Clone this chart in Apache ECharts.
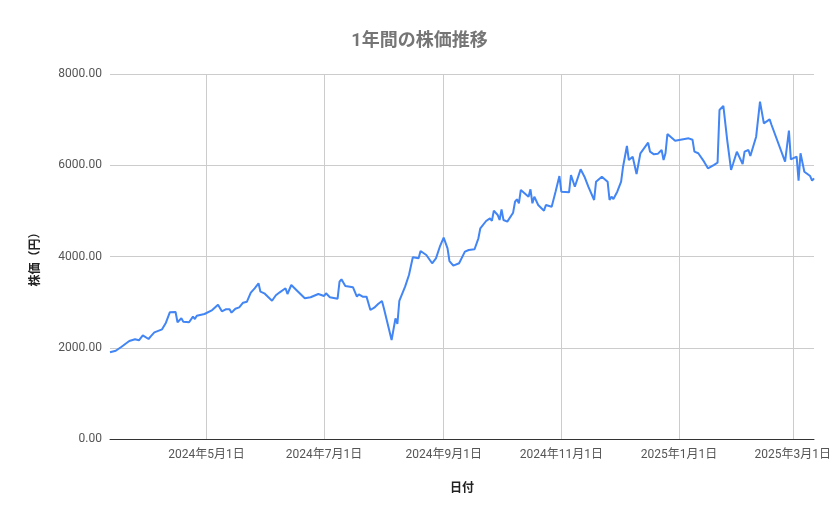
<!DOCTYPE html>
<html>
<head>
<meta charset="utf-8">
<script src="https://cdn.jsdelivr.net/npm/echarts@6/dist/echarts.min.js"></script>
<style>
html,body{margin:0;padding:0;background:#fff;}
#chart{width:839px;height:519px;}
</style>
</head>
<body>
<div id="chart"></div>
<script>
const titleText = '1年間の株価推移';
const xAxisName = '日付';
const yAxisName = '株価（円）';

const dates = [
'2024-03-12','2024-03-15','2024-03-18','2024-03-22','2024-03-25','2024-03-26','2024-03-27','2024-03-29',
'2024-04-01','2024-04-02','2024-04-04','2024-04-08','2024-04-10','2024-04-12','2024-04-15','2024-04-16',
'2024-04-18','2024-04-19','2024-04-22','2024-04-24','2024-04-25','2024-04-26','2024-04-30',
'2024-05-04','2024-05-07','2024-05-09','2024-05-11','2024-05-13','2024-05-14','2024-05-16','2024-05-18',
'2024-05-20','2024-05-22','2024-05-24','2024-05-26','2024-05-28','2024-05-29','2024-05-31',
'2024-06-04','2024-06-06','2024-06-08','2024-06-11','2024-06-12','2024-06-14','2024-06-17','2024-06-21',
'2024-06-24','2024-06-25','2024-06-28',
'2024-07-01','2024-07-02','2024-07-04','2024-07-08','2024-07-09','2024-07-10','2024-07-12','2024-07-16',
'2024-07-18','2024-07-19','2024-07-21','2024-07-23','2024-07-25','2024-07-27','2024-07-29','2024-07-30','2024-07-31',
'2024-08-01','2024-08-05','2024-08-07','2024-08-08','2024-08-09','2024-08-12','2024-08-14','2024-08-15',
'2024-08-16','2024-08-19','2024-08-20','2024-08-23','2024-08-26','2024-08-28','2024-08-30',
'2024-09-01','2024-09-03','2024-09-04','2024-09-06','2024-09-09','2024-09-10','2024-09-12','2024-09-14',
'2024-09-17','2024-09-19','2024-09-20','2024-09-23','2024-09-25','2024-09-26','2024-09-27','2024-09-29','2024-09-30',
'2024-10-01','2024-10-02','2024-10-04','2024-10-07','2024-10-08','2024-10-09','2024-10-10','2024-10-11',
'2024-10-15','2024-10-16','2024-10-17','2024-10-18','2024-10-20','2024-10-23','2024-10-24','2024-10-27',
'2024-10-28','2024-10-29','2024-10-31',
'2024-11-01','2024-11-05','2024-11-06','2024-11-07','2024-11-08','2024-11-11','2024-11-13','2024-11-15',
'2024-11-18','2024-11-19','2024-11-20','2024-11-22','2024-11-25','2024-11-26','2024-11-27','2024-11-28','2024-11-30',
'2024-12-02','2024-12-03','2024-12-05','2024-12-06','2024-12-08','2024-12-10','2024-12-12','2024-12-16',
'2024-12-17','2024-12-19','2024-12-21','2024-12-23','2024-12-24','2024-12-25','2024-12-26','2024-12-27','2024-12-30',
'2025-01-06','2025-01-08','2025-01-09','2025-01-11','2025-01-14','2025-01-16','2025-01-19','2025-01-21',
'2025-01-22','2025-01-24','2025-01-26','2025-01-28','2025-01-29','2025-01-31',
'2025-02-03','2025-02-04','2025-02-05','2025-02-06','2025-02-07','2025-02-10','2025-02-12','2025-02-14',
'2025-02-17','2025-02-18','2025-02-19','2025-02-25','2025-02-27','2025-02-28',
'2025-03-03','2025-03-04','2025-03-05','2025-03-07','2025-03-10','2025-03-11','2025-03-12'
];

const prices = [
1900,1935,2023,2148,2185,2214,2163,2272,
2192,2243,2338,2404,2549,2777,2784,2558,
2645,2571,2558,2681,2630,2703,2740,
2827,2944,2798,2843,2843,2769,2856,2886,
2988,3010,3207,3303,3412,3229,3193,
3031,3150,3215,3303,3178,3375,3251,3084,
3106,3119,3178,
3134,3193,3106,3075,3448,3500,3353,3325,
3119,3171,3119,3120,2827,2878,2959,2955,3025,
2864,2170,2645,2521,3025,3339,3594,3558,
3982,3960,4120,4033,3851,3960,4215,
4412,4180,3901,3799,3851,3864,4106,4143,
4158,4399,4618,4778,4837,4780,5004,4910,4800,
5034,4800,4764,4960,5201,5254,5166,5458,
5311,5473,5166,5311,5129,5004,5129,5092,
5092,5420,5764,
5420,5407,5786,5823,5530,5911,5749,5530,
5238,5640,5603,5749,5640,5238,5311,5260,5420,
5640,5968,6422,6115,6188,5808,6262,6494,
6297,6240,6250,6334,6115,6262,6685,6700,6538,
6590,6560,6297,6262,6078,5933,6005,6056,
7211,7299,6553,5896,6027,6297,
6027,6297,6260,6334,6203,6626,7393,6919,
7007,6882,6860,6078,6758,6130,
6188,5662,6262,5859,5764,5662,5713
];

const axisStart = '2024-03-12';
const axisEnd = '2025-03-12';
const tickDates = ['2024-05-01','2024-07-01','2024-09-01','2024-11-01','2025-01-01','2025-03-01'];
const yTicks = [0, 2000, 4000, 6000, 8000];

const toTs = s => Date.parse(s + 'T00:00:00Z');
const seriesData = dates.map((d, i) => [toTs(d), prices[i]]);
const tickTs = tickDates.map(toTs);

const chart = echarts.init(document.getElementById('chart'), null, {renderer: 'canvas'});
chart.setOption({
  animation: false,
  backgroundColor: '#ffffff',
  textStyle: {fontFamily: 'Roboto, "Noto Sans CJK JP", sans-serif'},
  title: {
    text: titleText,
    left: 'center',
    top: 28,
    textStyle: {fontSize: 18, fontWeight: 'bold', color: '#757575', fontFamily: 'Roboto, "Noto Sans CJK JP", sans-serif'}
  },
  grid: {left: 110, right: 25, top: 74, bottom: 80},
  xAxis: {
    type: 'value',
    min: toTs(axisStart),
    max: toTs(axisEnd),
    name: xAxisName,
    nameLocation: 'middle',
    nameGap: 44,
    nameTextStyle: {fontSize: 12, color: '#222222', fontWeight: 'bold'},
    axisLine: {show: true, onZero: false, lineStyle: {color: '#333333', width: 1}},
    axisTick: {show: false, customValues: tickTs},
    axisLabel: {
      customValues: tickTs,
      color: '#555555',
      fontSize: 12,
      margin: 10,
      formatter: v => {
        const d = new Date(v);
        return d.getUTCFullYear() + '年' + (d.getUTCMonth() + 1) + '月' + d.getUTCDate() + '日';
      }
    },
    splitLine: {show: true, lineStyle: {color: '#cccccc', width: 1}}
  },
  yAxis: {
    type: 'value',
    min: yTicks[0],
    max: yTicks[yTicks.length - 1],
    interval: 2000,
    name: yAxisName,
    nameLocation: 'middle',
    nameGap: 68,
    nameTextStyle: {fontSize: 12, color: '#222222', fontWeight: 'bold'},
    axisLine: {show: false},
    axisTick: {show: false},
    axisLabel: {color: '#555555', fontSize: 12, margin: 8, formatter: v => v.toFixed(2)},
    splitLine: {show: true, lineStyle: {color: '#cccccc', width: 1}}
  },
  series: [{
    type: 'line',
    data: seriesData,
    showSymbol: false,
    symbol: 'none',
    lineStyle: {color: '#4285F4', width: 2},
    itemStyle: {color: '#4285F4'}
  }]
});
</script>
</body>
</html>
